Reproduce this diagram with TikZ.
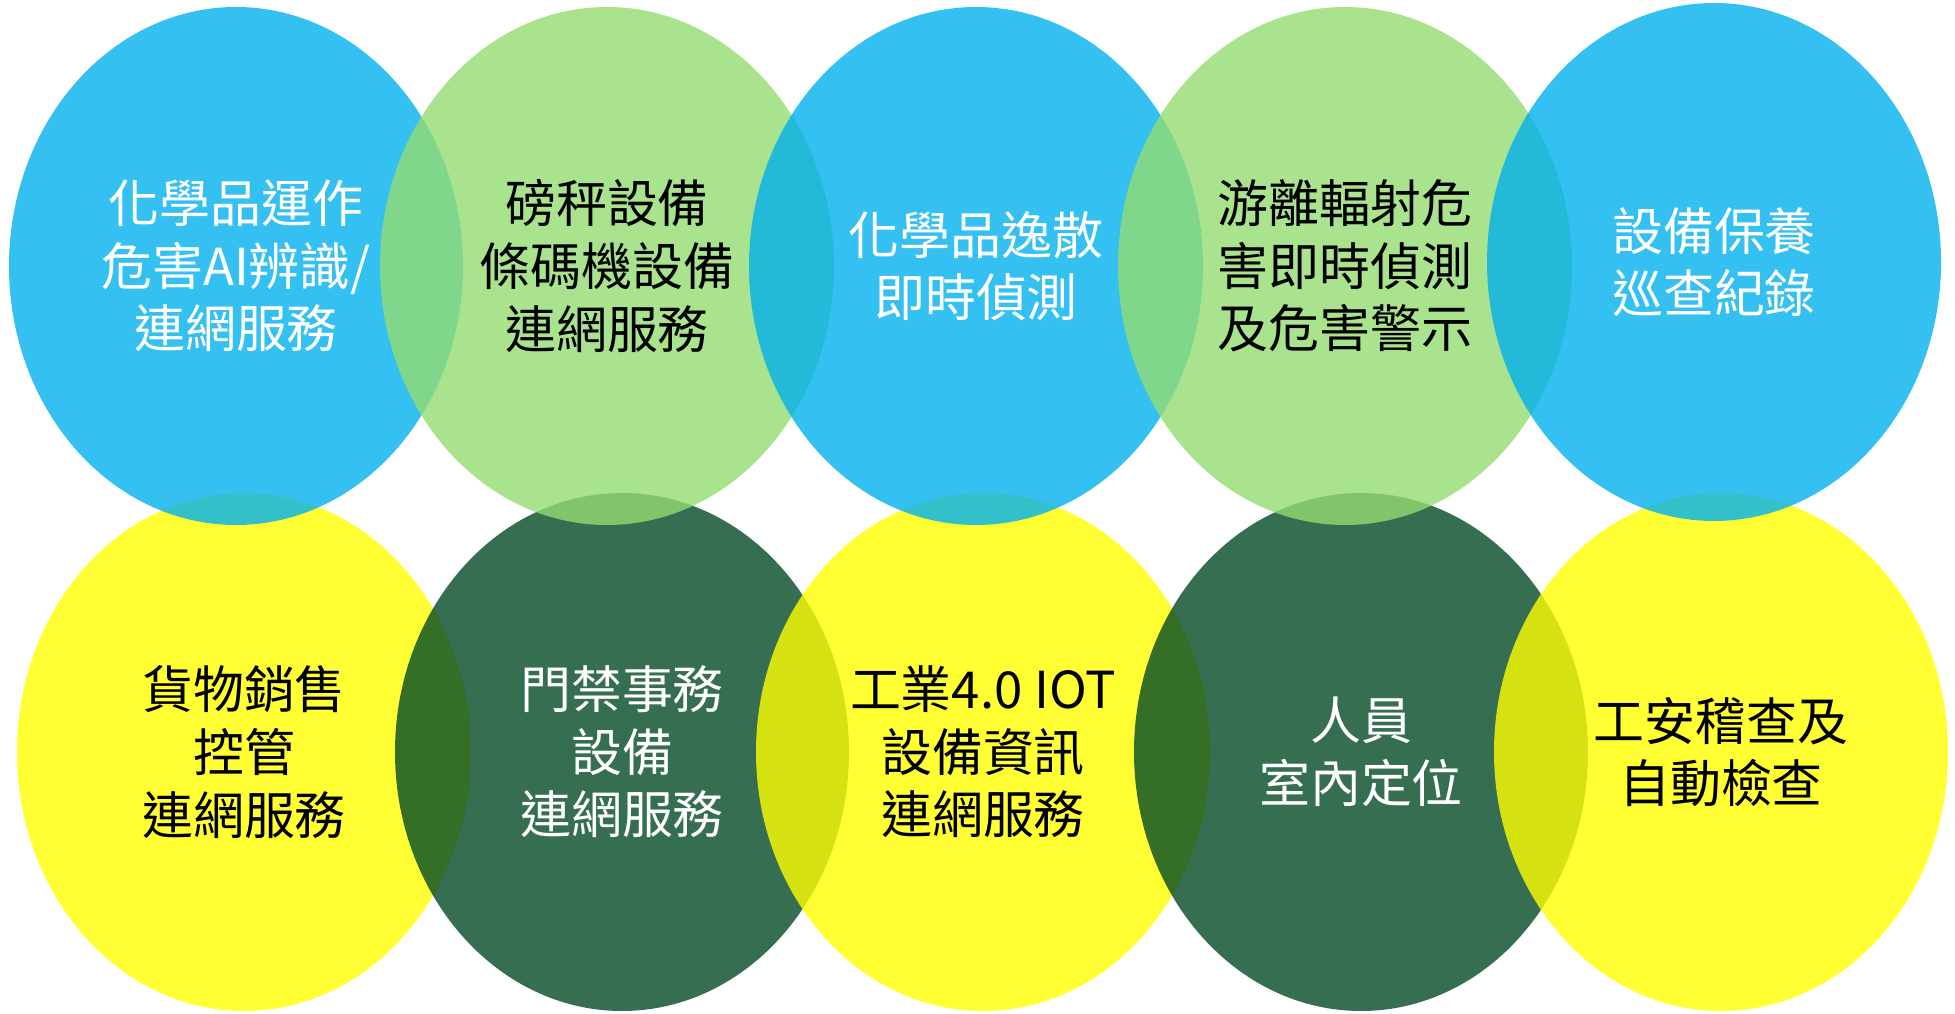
\documentclass[tikz,border=0pt]{standalone}
\usepackage{fontspec}
\setmainfont{Noto Sans CJK TC}
\usepackage{xcolor}
\usepackage{tikz}
\usetikzlibrary{shapes.geometric}

\definecolor{skyblue}{RGB}{2,176,239}
\definecolor{leafgreen}{RGB}{148,220,112}
\definecolor{pinegreen}{RGB}{3,74,36}
\definecolor{lemon}{RGB}{255,255,0}

\begin{document}
\begin{tikzpicture}[
  bubble/.style={
    draw=none, ellipse,
    minimum width=4.54cm,
    minimum height=5.18cm,
    inner sep=0pt,
    fill opacity=0.8,
    text opacity=1,
    align=center,
    font=\fontsize{14.5pt}{17.8pt}\selectfont
  }
]
\useasboundingbox (0,0) rectangle (19.55,10.13);

% Bottom row
\node[bubble, fill=lemon, text=black] (sales) at (2.44,2.61)
{貨物銷售\\ 控管\\ 連網服務};
\node[bubble, fill=pinegreen, text=white] (gate) at (6.22,2.61)
{門禁事務\\ 設備\\ 連網服務};
\node[bubble, fill=lemon, text=black] (iot) at (9.83,2.61)
{工業4.0 IOT\\ 設備資訊\\ 連網服務};
\node[bubble, fill=pinegreen, text=white] (locate) at (13.61,2.61)
{人員\\ 室內定位};
\node[bubble, fill=lemon, text=black] (audit) at (17.21,2.61)
{工安稽查及\\ 自動檢查};

% Top row
\node[bubble, fill=skyblue, text=white] (chemai) at (2.36,7.47)
{化學品運作\\ 危害AI辨識/\\ 連網服務};
\node[bubble, fill=leafgreen, text=black] (scale) at (6.07,7.47)
{磅秤設備\\ 條碼機設備\\ 連網服務};
\node[bubble, fill=skyblue, text=white] (leak) at (9.76,7.47)
{化學品逸散\\ 即時偵測};
\node[bubble, fill=leafgreen, text=black] (radiation) at (13.45,7.47)
{游離輻射危\\ 害即時偵測\\ 及危害警示};
\node[bubble, fill=skyblue, text=white] (upkeep) at (17.14,7.51)
{設備保養\\ 巡查紀錄};

\end{tikzpicture}
\end{document}
